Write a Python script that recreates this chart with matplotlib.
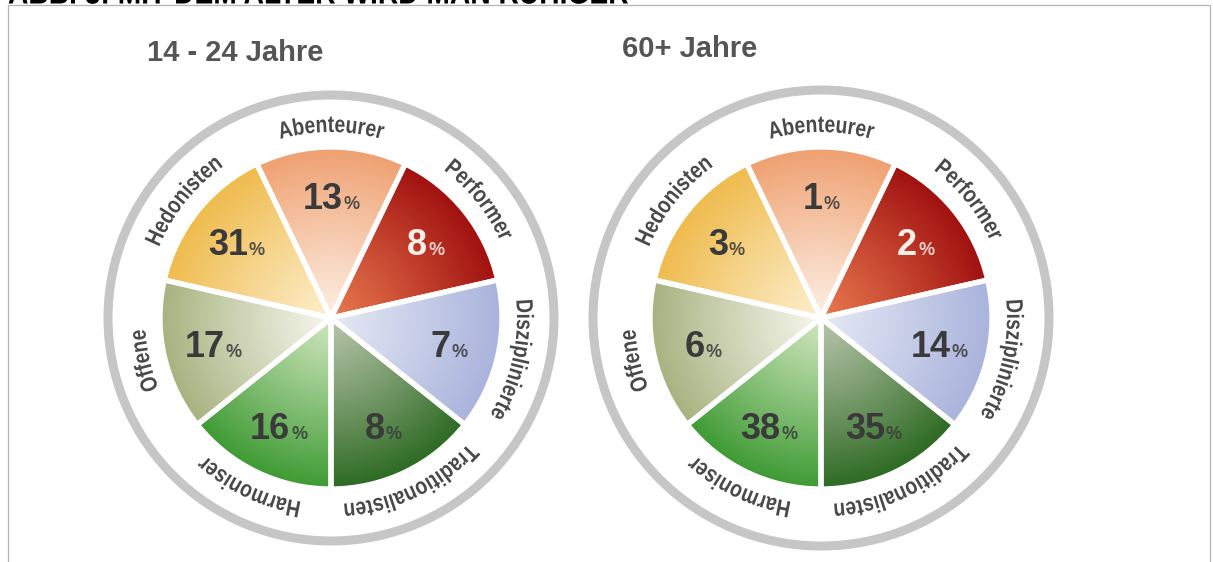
import numpy as np
import matplotlib
matplotlib.use("Agg")
import matplotlib.pyplot as plt
from matplotlib.patches import Wedge, Circle
from matplotlib.font_manager import FontProperties
from matplotlib.patheffects import AbstractPathEffect
from matplotlib.transforms import Affine2D
from matplotlib.colors import to_rgb

# ---------------- data ----------------
categories = ["Abenteurer", "Performer", "Disziplinierte", "Traditionalisten",
              "Harmoniser", "Offene", "Hedonisten"]
values_14_24 = [13, 8, 7, 8, 16, 17, 31]
values_60plus = [1, 2, 14, 35, 38, 6, 3]
panel_titles = ["14 - 24 Jahre", "60+ Jahre"]
figure_title = "ABB. 3: MIT DEM ALTER WIRD MAN RUHIGER"

# ---------------- style ----------------
inner_colors = ["#fdeee2", "#e8784e", "#e4e8f4", "#b8c4aa", "#cfe6bd", "#f6f6ec", "#fdeecb"]
outer_colors = ["#efa070", "#a0100f", "#a9b3dc", "#2c6a22", "#3d9a32", "#a7b27f", "#efbb4c"]
pct_colors = ["#3a3a3a", "#fbeee8", "#3a3a3a", "#3a3a3a", "#3a3a3a", "#3a3a3a", "#3a3a3a"]
label_color = "#4a4a4a"

W_PX, H_PX, DPI = 1213, 562, 100
SX = 0.82  # horizontal condensing of the label font


class HScale(AbstractPathEffect):
    """Condense glyphs horizontally around the text's left/baseline origin."""
    def __init__(self, sx):
        super().__init__()
        self.sx = sx

    def draw_path(self, renderer, gc, tpath, affine, rgbFace=None):
        renderer.draw_path(gc, tpath, Affine2D().scale(self.sx, 1.0) + affine, rgbFace)


fig = plt.figure(figsize=(W_PX / DPI, H_PX / DPI), dpi=DPI)
ax = fig.add_axes([0, 0, 1, 1])
ax.set_xlim(0, W_PX)
ax.set_ylim(0, H_PX)
ax.axis("off")
renderer = fig.canvas.get_renderer()


def tw(s, fp):
    w, h, d = renderer.get_text_width_height_descent(s, fp, ismath=False)
    return w


def Y(y_ref):
    return H_PX - y_ref


# border
ax.plot([8, 8, 1210, 1210], [0, Y(4.5), Y(4.5), 0], color="#b5b5b5", lw=0.9,
        solid_joinstyle="miter")

# figure title (cut at the top edge as in the reference)
fp_title = FontProperties(family="Liberation Sans", weight="bold", size=20)
sz = 20 * 620 / (tw(figure_title, fp_title) * SX)
fp_title.set_size(sz)
ax.text(8, Y(3.5), figure_title, fontproperties=fp_title, color="black",
        ha="left", va="baseline", path_effects=[HScale(SX)])

fp_sub = FontProperties(family="Liberation Sans", weight="bold", size=21)
fp_lab = FontProperties(family="Liberation Sans", weight="bold", size=17)
fp_num = FontProperties(family="Liberation Sans", weight="bold", size=26)
fp_pct = FontProperties(family="Liberation Sans", weight="bold", size=13)


def curved_label(cx, cy, R, theta_c, s, fp, color):
    total = tw(s, fp) * SX
    for i, ch in enumerate(s):
        a = (tw(s[:i], fp) if i > 0 else 0.0) * SX
        b = tw(s[: i + 1], fp) * SX
        wc = tw(ch, fp) * SX
        mid = (a + b) / 2 - total / 2
        th = np.radians(theta_c) - mid / R
        px = cx + R * np.cos(th)
        py = cy + R * np.sin(th)
        dx, dy = np.sin(th), -np.cos(th)  # clockwise tangent
        lx = px - dx * wc / 2
        ly = py - dy * wc / 2
        ax.text(lx, ly, ch, fontproperties=fp, color=color,
                rotation=np.degrees(th) - 90, rotation_mode="anchor",
                ha="left", va="baseline", path_effects=[HScale(SX)], zorder=4)


def draw_wheel(cx_ref, cy_ref, values, title, title_xy, ring_r):
    cx, cy = cx_ref, Y(cy_ref)
    R = 171.0
    n = len(categories)
    step = 360.0 / n
    x0, x1, y0, y1 = cx - R - 2, cx + R + 2, cy - R - 2, cy + R + 2
    gx = np.linspace(x0, x1, 360)
    gy = np.linspace(y0, y1, 360)
    GX, GY = np.meshgrid(gx, gy)
    rr = np.clip(np.hypot(GX - cx, GY - cy) / R, 0, 1)
    for i, (cat, v) in enumerate(zip(categories, values)):
        thc = 90 - i * step
        t1, t2 = thc - step / 2, thc + step / 2
        wedge = Wedge((cx, cy), R, t1, t2, facecolor="none", edgecolor="none")
        ax.add_patch(wedge)
        ci = np.array(to_rgb(inner_colors[i]))
        co = np.array(to_rgb(outer_colors[i]))
        t = rr ** 1.1
        img = ci[None, None, :] + (co - ci)[None, None, :] * t[..., None]
        im = ax.imshow(img, extent=[x0, x1, y0, y1], origin="lower",
                       interpolation="bilinear", zorder=2, aspect="auto")
        im.set_clip_path(wedge)
        ax.add_patch(Wedge((cx, cy), R, t1, t2, facecolor="none",
                           edgecolor="white", lw=3.8, zorder=3))
        # percentage label
        rad = np.radians(thc)
        px = cx + 121 * np.cos(rad)
        py = cy + 121 * np.sin(rad)
        num = str(v)
        wn = tw(num, fp_num)
        wp = tw("%", fp_pct)
        total = wn + 1 + wp
        base = py - 12
        ax.text(px - total / 2, base, num, fontproperties=fp_num,
                color=pct_colors[i], ha="left", va="baseline", zorder=5)
        ax.text(px - total / 2 + wn + 1, base, "%", fontproperties=fp_pct,
                color=pct_colors[i], alpha=0.85, ha="left", va="baseline", zorder=5)
        # category label
        curved_label(cx, cy, 186, thc, cat, fp_lab, label_color)
    ax.add_patch(Circle((cx, cy), ring_r, fill=False, edgecolor="#c6c6c6",
                        lw=9 * 72 / DPI, zorder=1))
    ax.text(title_xy[0], Y(title_xy[1]), title, fontproperties=fp_sub,
            color="#555555", ha="left", va="baseline")


draw_wheel(331, 318, values_14_24, panel_titles[0], (147, 61), 223)
draw_wheel(821, 318, values_60plus, panel_titles[1], (622, 57), 228)

fig.savefig("out.png", dpi=DPI)
